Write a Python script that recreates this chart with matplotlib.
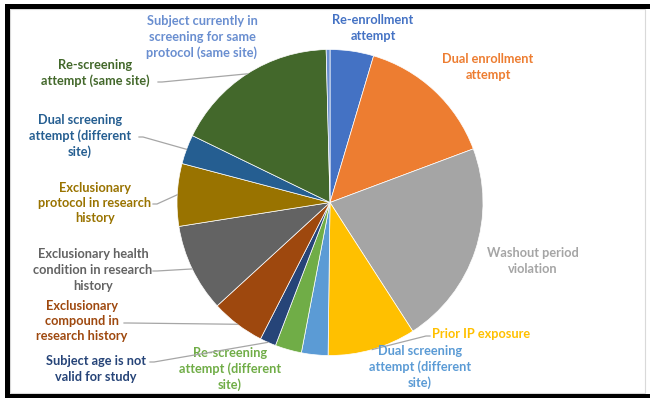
import matplotlib.pyplot as plt
from matplotlib.patches import Rectangle
import numpy as np

# Slice shares (percent), clockwise from 12 o'clock
labels = ['Re-enrollment\nattempt',
          'Dual enrollment\nattempt',
          'Washout period\nviolation',
          'Prior IP exposure',
          'Dual screening\nattempt (different\nsite)',
          'Re-screening\nattempt (different\nsite)',
          'Subject age is not\nvalid for study',
          'Exclusionary\ncompound in\nresearch history',
          'Exclusionary health\ncondition in research\nhistory',
          'Exclusionary\nprotocol in research\nhistory',
          'Dual screening\nattempt (different\nsite)',
          'Re-screening\nattempt (same site)',
          'Subject currently in\nscreening for same\nprotocol (same site)']
values = [4.6, 14.7, 21.6, 9.3, 2.8, 2.8, 1.7, 5.7, 9.3, 6.6, 3.1, 17.4, 0.4]
colors = ['#4472C4', '#ED7D31', '#A5A5A5', '#FFC000', '#5B9BD5', '#70AD47',
          '#264478', '#9E480E', '#636363', '#997300', '#255E91', '#43682B',
          '#698ED0']

W, H = 650, 398
CX, CY, R = 330, 202.5, 153

# label centres in pixels, and where a leader line starts (None = no leader)
label_pos = [(373, 28), (488, 67), (533, 261), (481, 334), (420, 367),
             (230, 369), (96, 369), (82, 321), (93, 270), (95, 203),
             (80, 136), (95, 73), (202, 37)]
leader_start = [None, None, None, (430, 336), None,
                None, (150, 362), (124, 323), (153, 271), (153, 204),
                (139, 137), (158, 82), None]


def px(x, y):
    return (x - CX) / R, (CY - y) / R


fig = plt.figure(figsize=(6.5, 3.98), dpi=100)
ax = fig.add_axes([(CX - R) / W, (H - CY - R) / H, 2 * R / W, 2 * R / H])
wedges, _ = ax.pie(values, colors=colors, startangle=90, counterclock=False,
                   radius=1, wedgeprops=dict(edgecolor='white', linewidth=0.5))
ax.set_xlim(-1, 1)
ax.set_ylim(-1, 1)
ax.axis('off')

for i, (lab, col) in enumerate(zip(labels, colors)):
    x, y = px(*label_pos[i])
    ax.text(x, y, lab, color=col, fontsize=9.2, fontweight='bold',
            family='Lato', ha='center', va='center', linespacing=1.35,
            clip_on=False)
    if leader_start[i] is not None:
        w = wedges[i]
        mid = np.deg2rad((w.theta1 + w.theta2) / 2)
        ex, ey = np.cos(mid), np.sin(mid)
        sx, sy = px(*leader_start[i])
        hx = sx + (4 / R if ex > sx else -4 / R)
        ax.plot([sx, hx, ex], [sy, sy, ey], color='#A6A6A6', lw=0.9,
                clip_on=False, zorder=3)

# chart border and the black frame around the screenshot
fig.patches.append(Rectangle((10 / W, 1 - 393 / H), 635 / W, 384 / H,
                             transform=fig.transFigure, fill=False,
                             edgecolor='#D9D9D9', lw=0.8))
for x0, y0, x1, y1 in [(5, 4, W, 9), (5, 4, 10, H), (5, 394, W, H)]:
    fig.patches.append(Rectangle((x0 / W, 1 - y1 / H), (x1 - x0) / W,
                                 (y1 - y0) / H, transform=fig.transFigure,
                                 color='black', lw=0))

fig.savefig('out.png', dpi=100)
